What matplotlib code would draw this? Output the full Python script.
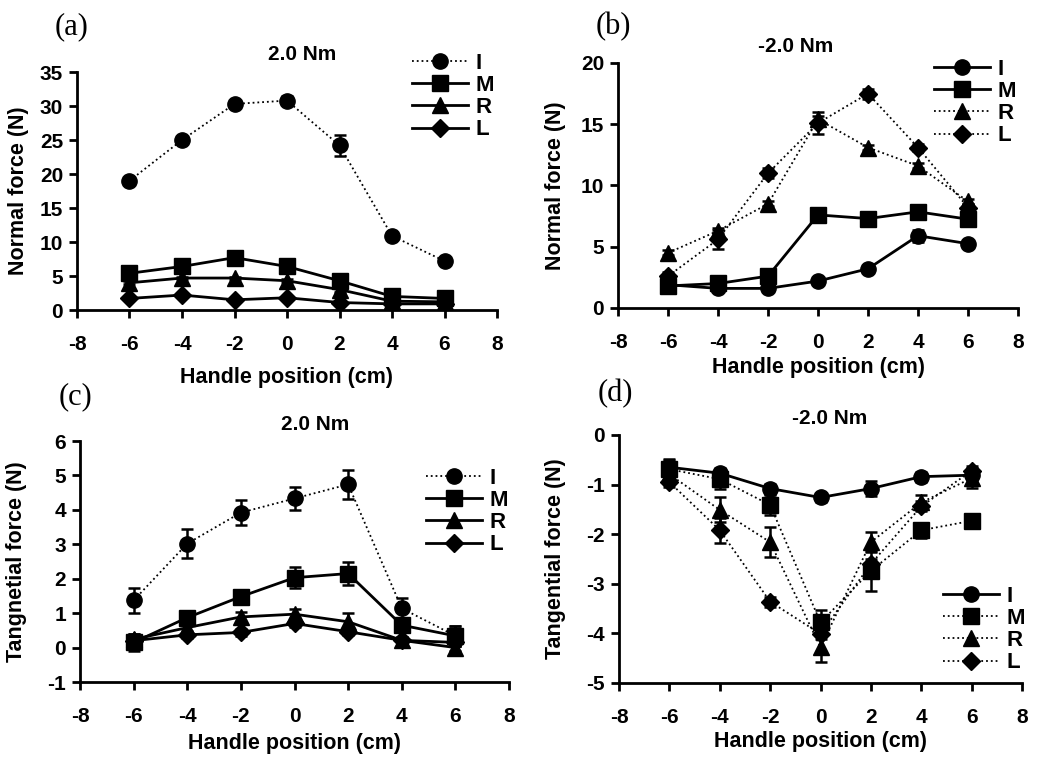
import matplotlib
matplotlib.use("Agg")
import matplotlib.pyplot as plt

plt.rcParams['font.family'] = ['Liberation Sans', 'DejaVu Sans']
plt.rcParams['font.weight'] = 'bold'
plt.rcParams['axes.labelweight'] = 'bold'
plt.rcParams['axes.unicode_minus'] = False

pos = [-6, -4, -2, 0, 2, 4, 6]
fingers = ["I", "M", "R", "L"]
markers = ["o", "s", "^", "D"]
msizes = [11, 11, 11, 9]

# (a) normal force, 2.0 Nm
a_vals = {
    "I": [19.0, 25.0, 30.3, 30.8, 24.2, 10.9, 7.2],
    "M": [5.4, 6.4, 7.7, 6.4, 4.3, 2.0, 1.7],
    "R": [4.0, 4.7, 4.7, 4.3, 3.0, 1.3, 1.2],
    "L": [1.7, 2.2, 1.5, 1.8, 1.1, 0.9, 0.9],
}
a_err = {
    "I": [0.4, 0.4, 0.4, 0.7, 1.5, 0.4, 0.3],
    "M": [0.3, 0.3, 0.3, 0.3, 0.3, 0.2, 0.2],
    "R": [0.2, 0.2, 0.2, 0.2, 0.3, 0.2, 0.2],
    "L": [0.2, 0.2, 0.2, 0.2, 0.2, 0.1, 0.1],
}
# (b) normal force, -2.0 Nm
b_vals = {
    "I": [1.9, 1.6, 1.6, 2.2, 3.2, 5.9, 5.25],
    "M": [1.8, 2.0, 2.6, 7.6, 7.3, 7.85, 7.25],
    "R": [4.5, 6.3, 8.5, 15.4, 13.1, 11.6, 8.7],
    "L": [2.6, 5.6, 11.0, 15.1, 17.5, 13.1, 8.2],
}
b_err = {
    "I": [0.2, 0.2, 0.2, 0.2, 0.2, 0.5, 0.2],
    "M": [0.2, 0.2, 0.2, 0.2, 0.2, 0.3, 0.2],
    "R": [0.2, 0.2, 0.2, 0.3, 0.2, 0.2, 0.2],
    "L": [0.3, 0.8, 0.4, 0.9, 0.4, 0.3, 0.3],
}
# (c) tangential force, 2.0 Nm
c_vals = {
    "I": [1.37, 3.02, 3.92, 4.33, 4.74, 1.14, 0.34],
    "M": [0.15, 0.87, 1.48, 2.03, 2.15, 0.65, 0.34],
    "R": [0.24, 0.58, 0.89, 0.97, 0.75, 0.21, 0.0],
    "L": [0.2, 0.37, 0.44, 0.7, 0.46, 0.21, 0.15],
}
c_err = {
    "I": [0.37, 0.43, 0.37, 0.33, 0.43, 0.3, 0.3],
    "M": [0.25, 0.1, 0.1, 0.3, 0.33, 0.1, 0.3],
    "R": [0.15, 0.15, 0.15, 0.15, 0.25, 0.1, 0.1],
    "L": [0.1, 0.1, 0.1, 0.1, 0.1, 0.1, 0.1],
}
# (d) tangential force, -2.0 Nm
d_vals = {
    "I": [-0.65, -0.77, -1.08, -1.26, -1.08, -0.84, -0.81],
    "M": [-0.69, -0.89, -1.41, -3.78, -2.74, -1.92, -1.73],
    "R": [-0.79, -1.51, -2.16, -4.28, -2.16, -1.36, -0.87],
    "L": [-0.95, -1.92, -3.36, -4.01, -2.6, -1.44, -0.72],
}
d_err = {
    "I": [0.15, 0.1, 0.1, 0.1, 0.15, 0.1, 0.1],
    "M": [0.2, 0.2, 0.2, 0.25, 0.4, 0.15, 0.1],
    "R": [0.15, 0.25, 0.3, 0.3, 0.2, 0.15, 0.2],
    "L": [0.1, 0.25, 0.1, 0.1, 0.1, 0.1, 0.1],
}

fig = plt.figure(figsize=(10.5, 7.58), dpi=100)
W, H = 1050.0, 758.0


def panel(box, vals, errs, dotted, ylim, yticks, ylabel, ylab_x, title, title_x, letter, letter_xy, leg_xy, xlab_y):
    l, r, t, b = box
    ax = fig.add_axes([l / W, 1 - b / H, (r - l) / W, (b - t) / H])
    handles = []
    for f, m, ms in zip(fingers, markers, msizes):
        if f in dotted:
            ls, lw = ":", 1.3
        else:
            ls, lw = "-", 2.0
        eb = ax.errorbar(pos, vals[f], yerr=errs[f], color="black", ls=ls, lw=lw,
                         marker=m, ms=ms, mfc="black", mec="black",
                         ecolor="black", elinewidth=1.8, capsize=4.5, capthick=1.8)
        handles.append(eb.lines[0])
    ax.set_xlim(-8, 8)
    ax.set_xticks(range(-8, 9, 2))
    ax.set_ylim(*ylim)
    ax.set_yticks(yticks)
    for s in ["top", "right"]:
        ax.spines[s].set_visible(False)
    for s in ["left", "bottom"]:
        ax.spines[s].set_linewidth(2.0)
    ax.tick_params(direction="out", width=2.0, length=6, labelsize=15, pad=4)
    ax.tick_params(axis="x", pad=12)
    for lbl in ax.get_xticklabels() + ax.get_yticklabels():
        lbl.set_fontweight("bold")
    fig.text(ylab_x / W, 1 - ((t + b) / 2) / H, ylabel, rotation=90, ha="center",
             va="center", fontsize=15.5, fontweight="bold")
    fig.text(((l + r) / 2) / W, 1 - xlab_y / H, "Handle position (cm)", ha="center",
             va="center", fontsize=15.5, fontweight="bold")
    fig.text(title_x / W, 1 - (t - 17) / H, title, ha="center", va="center",
             fontsize=15, fontweight="bold")
    fig.text(letter_xy[0] / W, 1 - letter_xy[1] / H, letter, ha="center", va="center",
             fontsize=22, fontweight="normal", family="Liberation Serif")
    ax.legend(handles, fingers, loc="upper left", bbox_to_anchor=(leg_xy[0] / W, 1 - leg_xy[1] / H),
              bbox_transform=fig.transFigure, frameon=False, numpoints=1,
              handlelength=2.5, handletextpad=0.35, labelspacing=0.05, borderpad=0,
              borderaxespad=0, prop={"weight": "bold", "size": 16})
    return ax


panel((77, 497, 72, 310), a_vals, a_err, ["I"], (0, 35), range(0, 36, 5),
      "Normal force (N)", 19, "2.0 Nm", 302, "(a)", (72, 27), (412, 53), 378)
panel((618, 1018, 63, 308), b_vals, b_err, ["R", "L"], (0, 20), range(0, 21, 5),
      "Normal force (N)", 555, "-2.0 Nm", 796, "(b)", (613, 27), (934, 59), 367)
panel((80, 509, 441, 682), c_vals, c_err, ["I"], (-1, 6), range(-1, 7),
      "Tangnetial force (N)", 17, "2.0 Nm", 315, "(c)", (75, 397), (426, 468), 744)
panel((619, 1022, 435, 683), d_vals, d_err, ["M", "R", "L"], (-5, 0), range(-5, 1),
      "Tangential force (N)", 556, "-2.0 Nm", 830, "(d)", (615, 394), (943, 586), 741)

fig.savefig("out.png", dpi=100)
